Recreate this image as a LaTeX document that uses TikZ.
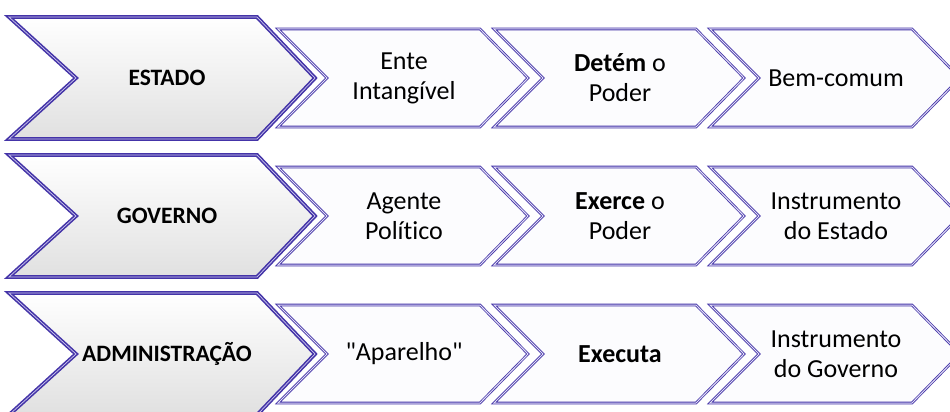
\documentclass[tikz,border=0pt]{standalone}
\usepackage{fontspec}
\setmainfont{Carlito}[Ligatures=NoCommon]
\usetikzlibrary{positioning}
\definecolor{chevblue}{RGB}{68,52,168}
\definecolor{chevlight}{RGB}{205,200,238}
\definecolor{chevfill}{RGB}{252,252,254}

\begin{document}
\begin{tikzpicture}[x=1pt, y=-1pt,
  bigchev/.style={draw=chevblue, double=chevlight, double distance=0.7pt, line width=1.6pt, top color=white, middle color=white, bottom color=black!12},
  smallchev/.style={draw=chevblue, double=chevlight!60, double distance=1pt, line width=0.8pt, fill=chevfill},
  biglabel/.style={font=\fontsize{23.5}{28}\selectfont\bfseries, align=center},
  smalllabel/.style={font=\fontsize{26}{30}\selectfont, align=center}]
% Page frame
\clip (0,0) rectangle (950,412);

% One row per concept: main chevron and three steps
\foreach \m/\main/\ta/\tb/\tc [count=\r] in {
    78/ESTADO/{Ente\\Intangível}/{\textbf{Detém} o\\Poder}/Bem-comum,
    216/GOVERNO/{Agente\\Político}/{\textbf{Exerce} o\\Poder}/{Instrumento\\do Estado},
    354/ADMINISTRAÇÃO/\textquotedbl Aparelho\textquotedbl/\textbf{Executa}/{Instrumento\\do Governo}} {
    \draw[bigchev] (9,\m-61) -- (257,\m-61) -- (315,\m) -- (257,\m+61) -- (9,\m+61) -- (76,\m) -- cycle;
    \node[biglabel] (main\r) at (167,\m) {\main};
    \foreach \x/\t [count=\c] in {278/\ta, 494/\tb, 710/\tc} {
        \draw[smallchev] (\x,\m-49) -- ++(202,0) -- ++(48,49) -- ++(-48,49) -- ++(-202,0) -- ++(49,-49) -- cycle;
        \node[smalllabel] (step\r\c) at (\x+126,\m) {\t};
    }
}

\end{tikzpicture}
\end{document}
